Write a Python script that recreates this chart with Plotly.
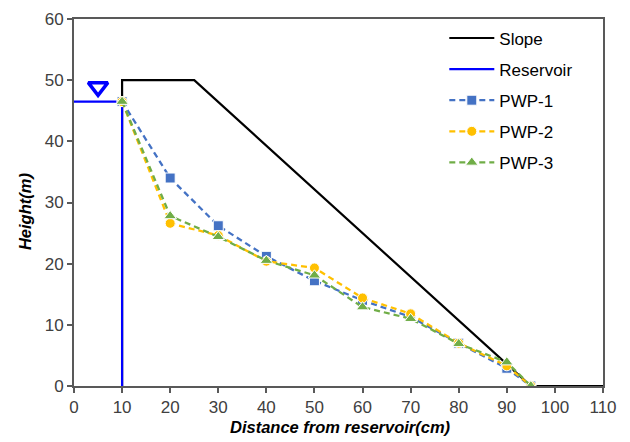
import plotly.graph_objects as go

x_pts = [10, 20, 30, 40, 50, 60, 70, 80, 90, 95]
pwp1 = [46.5, 34.0, 26.2, 21.2, 17.2, 14.0, 11.3, 7.0, 2.9, 0.0]
pwp2 = [46.5, 26.6, 24.6, 20.4, 19.3, 14.4, 11.8, 7.0, 3.3, 0.0]
pwp3 = [46.5, 27.8, 24.4, 20.5, 18.1, 12.9, 11.0, 6.9, 3.9, 0.0]

slope_x = [10, 10, 25, 95, 110]
slope_y = [0, 50, 50, 0, 0]

res_x = [0, 10, 10]
res_y = [46.5, 46.5, 0]

wl_x = [5]
wl_y = [48.9]

FONT = "Liberation Sans, Arial"
DASH = "6px,4px"

fig = go.Figure()
fig.add_trace(go.Scatter(x=slope_x, y=slope_y, mode="lines", name="Slope",
                         line=dict(color="black", width=2.2), legendgroup="a"))
fig.add_trace(go.Scatter(x=res_x, y=res_y, mode="lines", name="Reservoir",
                         line=dict(color="#0000FF", width=2.2), legendgroup="b"))
fig.add_trace(go.Scatter(x=wl_x, y=wl_y, mode="markers", showlegend=False,
                         marker=dict(symbol="triangle-down-open", size=17,
                                     color="#0000FF", line=dict(width=3.5, color="#0000FF"))))
fig.add_trace(go.Scatter(x=x_pts, y=pwp1, mode="lines+markers", name="PWP-1",
                         line=dict(color="#4472C4", width=2.3, dash=DASH),
                         marker=dict(symbol="square", size=10, color="#4472C4",
                                     line=dict(color="white", width=1)), legendgroup="c"))
fig.add_trace(go.Scatter(x=x_pts, y=pwp2, mode="lines+markers", name="PWP-2",
                         line=dict(color="#FFC000", width=2.3, dash=DASH),
                         marker=dict(symbol="circle", size=10, color="#FFC000",
                                     line=dict(color="white", width=1)), legendgroup="d"))
fig.add_trace(go.Scatter(x=x_pts, y=pwp3, mode="lines+markers", name="PWP-3",
                         line=dict(color="#70AD47", width=2.3, dash=DASH),
                         marker=dict(symbol="triangle-up", size=11, color="#70AD47",
                                     line=dict(color="white", width=1)), legendgroup="e"))

axis_common = dict(showgrid=False, zeroline=False, showline=True, linecolor="#595959",
                   linewidth=2, mirror=True, ticks="outside", ticklen=5, tickwidth=1.5,
                   tickcolor="#595959", automargin=False,
                   tickfont=dict(family=FONT, size=17, color="#404040"))

fig.update_layout(
    width=630, height=442,
    margin=dict(l=74, r=27, t=19, b=56),
    plot_bgcolor="white", paper_bgcolor="white",
    xaxis=dict(range=[0, 110], tickvals=list(range(0, 111, 10)), **axis_common),
    yaxis=dict(range=[0, 60], tickvals=list(range(0, 61, 10)), **axis_common),
    legend=dict(x=0.70, y=0.996, xanchor="left", yanchor="top", tracegroupgap=6,
                itemwidth=45,
                font=dict(family=FONT, size=17, color="black"),
                bgcolor="rgba(0,0,0,0)"),
    showlegend=True,
    annotations=[
        dict(text="<b><i>Distance from reservoir(cm)</i></b>", xref="paper", yref="paper",
             x=0.503, y=-0.112, xanchor="center", yanchor="middle", showarrow=False,
             font=dict(family=FONT, size=16.5, color="black")),
        dict(text="<b><i>Height(m)</i></b>", xref="paper", yref="paper",
             x=-0.0926, y=0.474, xanchor="center", yanchor="middle", showarrow=False,
             textangle=-90, font=dict(family=FONT, size=16.5, color="black")),
    ],
)

fig.write_html("out.html", config={"displayModeBar": False},
               post_script="document.body.style.margin='0';")
